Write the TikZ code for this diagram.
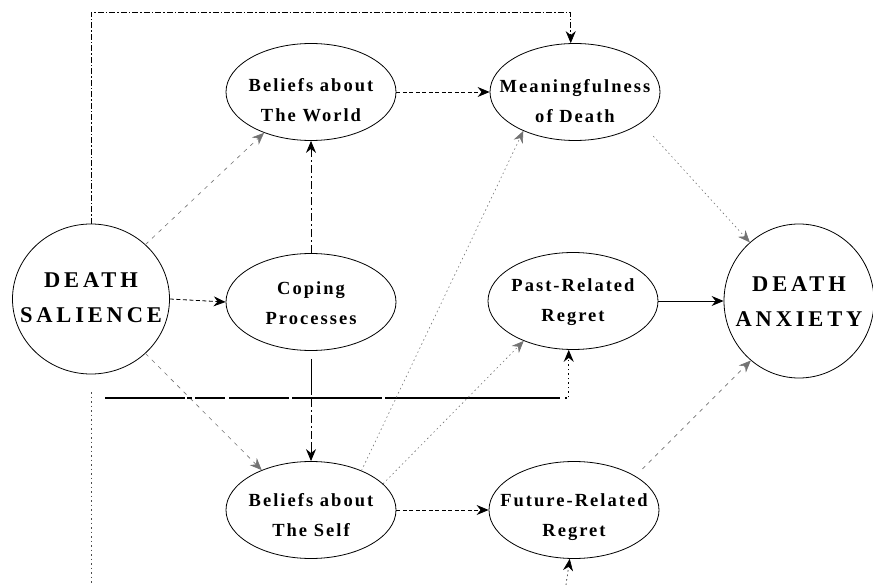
\documentclass[tikz,border=0pt]{standalone}
\usepackage{fontspec}
\setmainfont{Liberation Serif}
\newfontfamily\smlfont[LetterSpace=11]{Liberation Serif}
\newfontfamily\bigfont[LetterSpace=17]{Liberation Serif}
\usetikzlibrary{shapes.geometric,arrows.meta}
\begin{document}
\begin{tikzpicture}[x=1pt,y=-1pt,
  ell/.style={draw,ellipse,line width=0.8pt,inner sep=0pt},
  sm/.style={ell,minimum width=170pt,minimum height=97pt},
  smt/.style={align=center,inner sep=0pt,font=\fontsize{18.5}{30}\selectfont\smlfont\bfseries},
  bgt/.style={align=center,inner sep=0pt,font=\fontsize{22.5}{35}\selectfont\bigfont\bfseries},
  tip/.style={-{Stealth[length=12pt,width=10pt,inset=4pt]}},
  faint/.style={tip,line width=0.6pt,black!55},
  dotl/.style={faint,dash pattern=on 1.5pt off 3pt},
  ldash/.style={faint,dash pattern=on 4pt off 5pt},
  dsh/.style={tip,line width=0.8pt,dash pattern=on 4pt off 2.5pt},
  dd/.style={tip,line width=0.9pt,dash pattern=on 8pt off 3pt on 2pt off 3pt},
  sol/.style={tip,line width=0.9pt}]
\useasboundingbox (0,0) rectangle (873,585);
% ellipses
\node[ell,minimum width=157pt,minimum height=150pt] (ds) at (91,299) {};
\node[ell,minimum width=150pt,minimum height=154pt] (da) at (799,301) {};
\node[sm] (bw) at (311,92) {};
\node[sm] (cp) at (311,302) {};
\node[sm] (bs) at (311,510) {};
\node[sm] (mn) at (575,92) {};
\node[sm] (pr) at (573,301) {};
\node[sm] (fr) at (574,510) {};
% texts
\node[bgt] (dst) at ([yshift=1pt]ds.center) {DEATH\\SALIENCE};
\node[bgt] (dat) at ([yshift=-1pt]da.center) {DEATH\\ANXIETY};
\node[smt] (bwt) at ([yshift=-8pt]bw.center) {Beliefs about\\The World};
\node[smt] (cpt) at ([yshift=-1pt]cp.center) {Coping\\Processes};
\node[smt] (bst) at ([yshift=-5pt]bs.center) {Beliefs about\\The Self};
\node[smt] (mnt) at ([yshift=-9pt]mn.center) {Meaningfulness\\of Death};
\node[smt] (prt) at ([yshift=-1pt]pr.center) {Past-Related\\Regret};
\node[smt] (frt) at ([yshift=-7pt]fr.center) {Future-Related\\Regret};
% helper coordinates
\coordinate (topy) at (0,12);
\coordinate (hl) at (105,398);
\coordinate (lv1) at (91,392);
\coordinate (lv2) at (91,585);
\coordinate (fb) at (566,585);
% connectors
\draw[tip,line width=0.6pt,dash pattern=on 6pt off 2pt on 1.5pt off 2pt] (ds.north) -- (ds.north |- topy) -| (mn.95);
\draw[ldash] (ds.45) -- (bw.221);
\draw[dd] (cp.north) -- (bw.south);
\draw[dsh] (ds.east) -- (cp.west);
\draw[dsh] (bw.east) -- (mn.west);
\draw[tip,line width=0.9pt,shorten <=8pt,dash pattern=on 36pt off 4pt on 8pt off 3pt on 2pt off 3pt on 8pt off 3pt on 2pt off 3pt on 8pt off 3pt on 40pt] (cp.south) -- (bs.north);
\draw[ldash] (ds.-45) -- (bs.141);
\draw[tip,line width=1.1pt,dash pattern=on 80pt off 2pt on 5pt off 3pt on 30pt off 4pt on 60pt off 3pt on 90pt off 3pt on 175pt off 5pt on 1.5pt off 3pt on 1.5pt off 3pt on 1.5pt off 3pt on 1.5pt off 3pt on 1.5pt off 3pt on 1.5pt off 3pt on 1.5pt off 3pt on 1.5pt off 3pt on 1.5pt off 3pt on 1.5pt off 3pt] (hl) -| (pr.265);
\draw[line width=0.8pt,black!70,dash pattern=on 1.5pt off 3pt] (lv1) -- (lv2);
\draw[dotl,black] (fb) -- (fr.265);
\draw[dotl] (bs.38) -- (mn.217);
\draw[dotl] (bs.20) -- (pr.219);
\draw[dsh] (bs.east) -- (fr.west);
\draw[dotl,shorten <=18pt] (mn.-25) -- (da.130);
\draw[sol] (pr.east) -- (da.west);
\draw[ldash,shorten <=10pt] (fr.29) -- (da.231);
\end{tikzpicture}
\end{document}
